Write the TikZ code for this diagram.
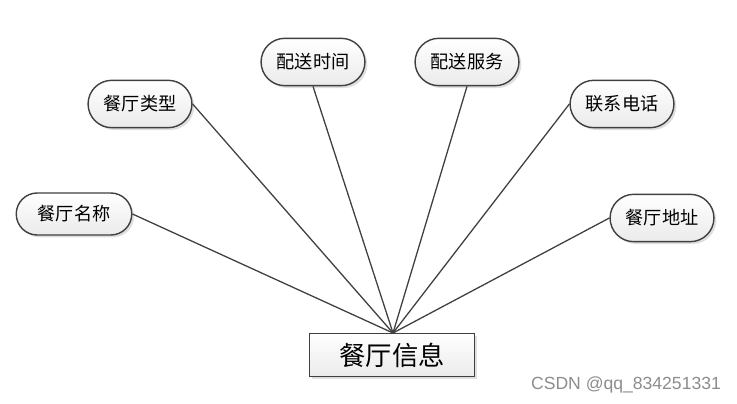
\documentclass[tikz,border=0pt]{standalone}
\usepackage{fontspec}
\newfontfamily\cjk{Noto Sans CJK SC}
\setsansfont{Liberation Sans}
\usetikzlibrary{shapes.misc,shadows}
\tikzset{
  attr/.style={rounded rectangle, draw=black!75, line width=1.2pt, top color=white, bottom color=black!8,
    drop shadow={shadow xshift=2pt, shadow yshift=-2pt, fill=black!25},
    minimum width=3.35cm, minimum height=1.42cm, font=\cjk\fontsize{15.5}{15.5}\selectfont},
  entity/.style={rectangle, draw=black!75, line width=1.2pt, top color=white, bottom color=black!8,
    drop shadow={shadow xshift=2pt, shadow yshift=-2pt, fill=black!25},
    minimum width=4.95cm, minimum height=1.29cm, font=\cjk\fontsize{22.5}{22.5}\selectfont},
  link/.style={draw=black!75, line width=1.1pt}
}
\begin{document}
\begin{tikzpicture}[x=0.03cm,y=-0.03cm]
\useasboundingbox (0,0) rectangle (737,404);
\node[entity] (info) at (392,355) {餐厅信息};
\coordinate (hub) at (393,333);
\node[attr, minimum width=3.7cm, minimum height=1.26cm] (name) at (74,214) {餐厅名称};
\node[attr] (type) at (140,104) {餐厅类型};
\node[attr] (time) at (313,62) {配送时间};
\node[attr] (serv) at (467,62) {配送服务};
\node[attr] (tel) at (622,104) {联系电话};
\node[attr] (addr) at (662,218) {餐厅地址};
% lines to the hub
\draw[link] (hub) -- (name.east);
\draw[link] (hub) -- (type.east);
\draw[link] (hub) -- (time.south);
\draw[link] (hub) -- (serv.south);
\draw[link] (hub) -- (tel.west);
\draw[link] (hub) -- (addr.west);
\node[text=black!45, font=\sffamily\fontsize{15}{15}\selectfont] (mark) at (626,385) {CSDN @qq\_834251331};
\end{tikzpicture}
\end{document}
